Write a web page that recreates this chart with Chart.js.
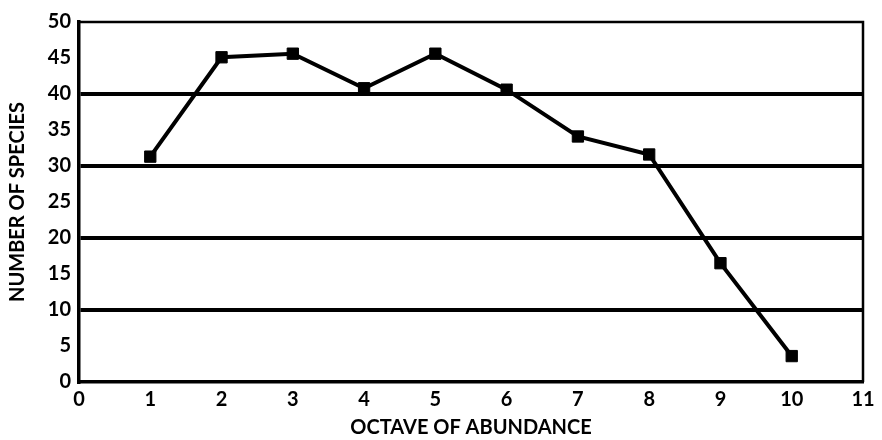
<!DOCTYPE html>
<html>
<head>
<meta charset="utf-8">
<script src="https://cdn.jsdelivr.net/npm/chart.js@4"></script>
<style>
  html, body { margin: 0; padding: 0; background: #fff; }
  #wrap { width: 882px; height: 440px; }
</style>
</head>
<body>
<div id="wrap"><canvas id="chart" width="882" height="440"></canvas></div>
<script>
const octaves = [1, 2, 3, 4, 5, 6, 7, 8, 9, 10];
const speciesCounts = [31.3, 45.1, 45.6, 40.8, 45.6, 40.6, 34.1, 31.6, 16.5, 3.6];
const xTitle = 'OCTAVE OF ABUNDANCE';
const yTitle = 'NUMBER OF SPECIES';

const fontFamily = 'Lato, "Noto Sans", sans-serif';

// frame around the plotting area (top and right sides have no axis)
const plotFrame = {
  id: 'plotFrame',
  afterDraw(chart) {
    const { ctx, chartArea: { left, top, right, bottom } } = chart;
    ctx.save();
    ctx.strokeStyle = '#000';
    ctx.lineWidth = 2.5;
    ctx.beginPath();
    ctx.moveTo(left, top);
    ctx.lineTo(right, top);
    ctx.lineTo(right, bottom);
    ctx.stroke();
    ctx.restore();
  },
};

new Chart(document.getElementById('chart'), {
  type: 'line',
  data: {
    datasets: [
      {
        data: octaves.map((x, i) => ({ x, y: speciesCounts[i] })),
        borderColor: '#000',
        backgroundColor: '#000',
        borderWidth: 4,
        pointStyle: 'rect',
        pointRadius: 8,
        pointBorderWidth: 1,
        tension: 0,
        clip: false,
      },
    ],
  },
  options: {
    responsive: false,
    animation: false,
    layout: { padding: { top: 22, right: 19, left: 0, bottom: 0 } },
    plugins: {
      legend: { display: false },
      tooltip: { enabled: false },
    },
    scales: {
      x: {
        type: 'linear',
        min: 0,
        max: 11,
        ticks: {
          stepSize: 1,
          color: '#000',
          padding: 6,
          maxRotation: 0,
          font: { family: fontFamily, size: 20, weight: 'bold' },
        },
        grid: { display: false, drawTicks: false },
        border: { display: true, color: '#000', width: 3.5 },
        title: {
          display: true,
          text: xTitle,
          color: '#000',
          padding: { top: 0, bottom: 0 },
          font: { family: fontFamily, size: 20, weight: 'bold' },
        },
        afterFit(scale) { scale.height = 58; },
      },
      y: {
        min: 0,
        max: 50,
        ticks: {
          stepSize: 5,
          color: '#000',
          padding: 8,
          font: { family: fontFamily, size: 20, weight: 'bold' },
        },
        grid: {
          drawTicks: false,
          color: (ctx) => (ctx.tick && ctx.tick.value % 10 === 0 && ctx.tick.value > 0 && ctx.tick.value < 50 ? '#000' : 'rgba(0,0,0,0)'),
          lineWidth: 4,
        },
        border: { display: true, color: '#000', width: 3.5 },
        title: {
          display: true,
          text: yTitle,
          color: '#000',
          padding: { top: 6, bottom: 0 },
          font: { family: fontFamily, size: 20, weight: 'bold' },
        },
        afterFit(scale) { scale.width = 79; },
      },
    },
  },
  plugins: [plotFrame],
});
</script>
</body>
</html>
